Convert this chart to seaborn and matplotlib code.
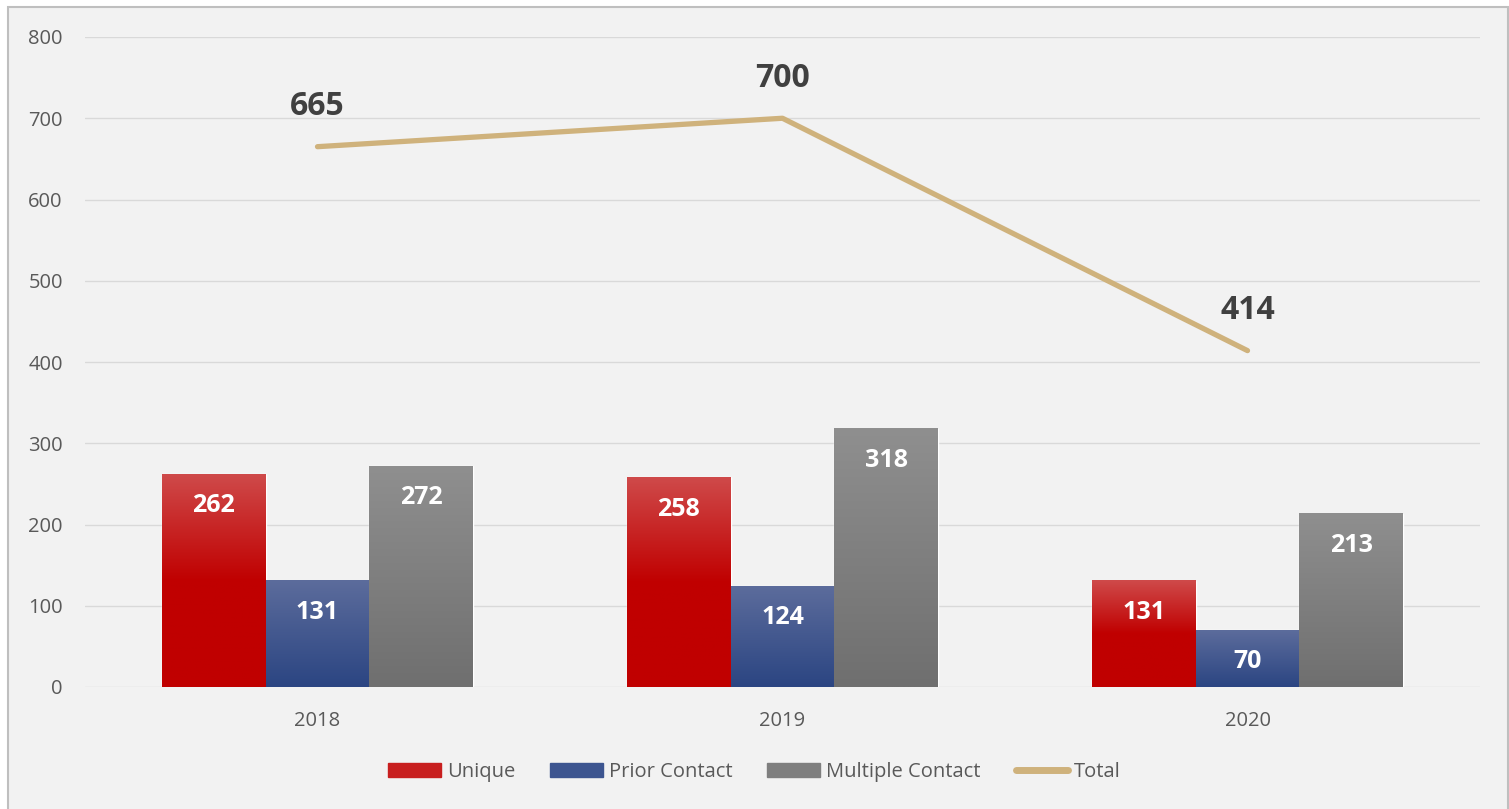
import numpy as np
import pandas as pd
import seaborn as sns
import matplotlib.pyplot as plt
from matplotlib.colors import LinearSegmentedColormap
from matplotlib.patches import Rectangle
from matplotlib.lines import Line2D

years = ['2018', '2019', '2020']
unique = [262, 258, 131]
prior_contact = [131, 124, 70]
multiple_contact = [272, 318, 213]
totals = [665, 700, 414]
series_names = ['Unique', 'Prior Contact', 'Multiple Contact']

# gradient colours (bottom -> top) for each bar series
grad_colors = {
    'Unique': [(0.0, '#c00000'), (0.5, '#c00000'), (1.0, '#cf4a4a')],
    'Prior Contact': [(0.0, '#2b4582'), (1.0, '#5c6c9c')],
    'Multiple Contact': [(0.0, '#6f6f6f'), (1.0, '#8f8f8f')],
}
flat_colors = ['#c00000', '#2f4a86', '#7f7f7f']
line_color = '#cfb27c'

sns.set_theme(style='white')
plt.rcParams['font.family'] = ['Open Sans', 'DejaVu Sans']

df = pd.DataFrame({
    'year': years * 3,
    'count': unique + prior_contact + multiple_contact,
    'type': sum([[n] * 3 for n in series_names], []),
})

fig = plt.figure(figsize=(15.09, 8.09), dpi=100, facecolor='white')
fig.patches.append(Rectangle((8 / 1509, -0.01), 1500 / 1509, 1 - 7 / 809 + 0.01,
                             transform=fig.transFigure, facecolor='#f2f2f2',
                             edgecolor='#bfbfbf', linewidth=1.5, zorder=-5))
ax = fig.add_axes([85 / 1509, 1 - 687 / 809, 1395 / 1509, 650 / 809])
ax.set_facecolor('none')

sns.barplot(data=df, x='year', y='count', hue='type', hue_order=series_names,
            palette=flat_colors, width=0.67, gap=0, saturation=1, ax=ax,
            legend=False, zorder=2)

# overlay vertical gradients on each bar
for container, name in zip(ax.containers, series_names):
    cmap = LinearSegmentedColormap.from_list(name, grad_colors[name])
    grad = np.linspace(0, 1, 256).reshape(-1, 1)
    for patch in container:
        x0, w, h = patch.get_x(), patch.get_width(), patch.get_height()
        ax.imshow(grad, extent=[x0, x0 + w, 0, h], origin='lower', cmap=cmap,
                  aspect='auto', zorder=2.5)
        ax.text(x0 + w / 2, h - 39, str(int(round(h))), ha='center', va='center',
                color='white', fontsize=18, fontweight='bold', zorder=5)

xpos = np.arange(len(years))
sns.lineplot(x=xpos, y=totals, color=line_color, linewidth=3.8, ax=ax, zorder=4)
for x, t in zip(xpos, totals):
    ax.text(x, t + 49, str(t), ha='center', va='center', color='#404040',
            fontsize=23, fontweight='bold', zorder=5)

ax.set_xlim(-0.5, 2.5)
ax.set_ylim(0, 800)
ax.set_yticks(range(0, 801, 100))
ax.set_xticks(xpos)
ax.set_xticklabels(years)
ax.set_xlabel('')
ax.set_ylabel('')
ax.grid(axis='y', color='#d9d9d9', linewidth=1)
ax.set_axisbelow(True)
for s in ax.spines.values():
    s.set_visible(False)
ax.tick_params(axis='y', length=0, pad=16, labelsize=14.5, labelcolor='#595959')
ax.tick_params(axis='x', length=0, pad=17, labelsize=14.5, labelcolor='#595959')

handles = [Rectangle((0, 0), 1, 1, color=c) for c in ['#c81e1e', '#3d5590', '#7f7f7f']]
handles.append(Line2D([0], [0], color=line_color, linewidth=5))
fig.legend(handles, series_names + ['Total'], loc='center', bbox_to_anchor=(0.5, 1 - 772 / 809),
           ncol=4, frameon=False, fontsize=14.5, labelcolor='#595959',
           handlelength=2.6, handleheight=0.7, handletextpad=0.3, columnspacing=1.75)

fig.savefig('out.png', dpi=100, facecolor='white')
